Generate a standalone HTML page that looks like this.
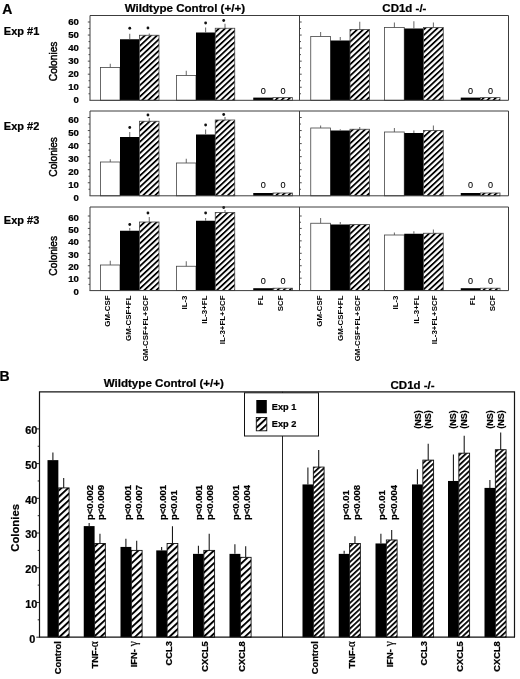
<!DOCTYPE html>
<html><head><meta charset="utf-8"><title>Figure</title>
<style>
html,body{margin:0;padding:0;background:#fff;}
body{width:520px;height:679px;overflow:hidden;font-family:"Liberation Sans",sans-serif;}
svg{display:block;filter:grayscale(1) blur(0.35px);font-family:"Liberation Sans",sans-serif;fill:#000;}
text{stroke:#000;stroke-width:0.22px;} text.t{stroke-width:0.45px} text.n{stroke-width:0.1px} text.z{stroke-width:0}
</style></head><body>
<svg width="520" height="679" viewBox="0 0 520 679">
<defs>
<pattern id="hA" patternUnits="userSpaceOnUse" width="10" height="4.13" patternTransform="rotate(-43)"><rect x="0" y="0" width="10" height="1.8" fill="#000"/></pattern>
<pattern id="hB1" patternUnits="userSpaceOnUse" width="10" height="4.68" patternTransform="rotate(-43)"><rect x="0" y="0" width="10" height="1.95" fill="#000"/></pattern>
<pattern id="hB2" patternUnits="userSpaceOnUse" width="10" height="3.75" patternTransform="rotate(-43)"><rect x="0" y="0" width="10" height="1.75" fill="#000"/></pattern>
</defs>
<rect width="520" height="679" fill="#fff"/>
<rect x="100.5" y="67.5" width="19.5" height="32.8" fill="#fff" stroke="#444" stroke-width="0.8"/>
<line x1="110.25" y1="67.5" x2="110.25" y2="63.75" stroke="#555" stroke-width="0.9"/>
<rect x="120.0" y="39.25" width="19.5" height="61.05" fill="#000"/>
<line x1="129.75" y1="39.25" x2="129.75" y2="33.75" stroke="#555" stroke-width="0.9"/>
<circle cx="129.75" cy="28.25" r="1.4" fill="#111"/>
<rect x="139.5" y="35.25" width="19.5" height="65.05" fill="#fff"/><rect x="139.5" y="35.25" width="19.5" height="65.05" fill="url(#hA)" stroke="#444" stroke-width="0.8"/>
<line x1="149.25" y1="35.25" x2="149.25" y2="33.5" stroke="#555" stroke-width="0.9"/>
<circle cx="147.95" cy="28.0" r="1.4" fill="#111"/>
<rect x="176.5" y="75.5" width="19.5" height="24.799999999999997" fill="#fff" stroke="#444" stroke-width="0.8"/>
<line x1="186.25" y1="75.5" x2="186.25" y2="70.75" stroke="#555" stroke-width="0.9"/>
<rect x="196.0" y="32.5" width="19.25" height="67.8" fill="#000"/>
<line x1="205.625" y1="32.5" x2="205.625" y2="27.5" stroke="#555" stroke-width="0.9"/>
<circle cx="205.625" cy="23.0" r="1.4" fill="#111"/>
<rect x="215.25" y="28.25" width="19.5" height="72.05" fill="#fff"/><rect x="215.25" y="28.25" width="19.5" height="72.05" fill="url(#hA)" stroke="#444" stroke-width="0.8"/>
<line x1="225.0" y1="28.25" x2="225.0" y2="23.75" stroke="#555" stroke-width="0.9"/>
<circle cx="223.7" cy="20.5" r="1.4" fill="#111"/>
<rect x="253.25" y="97.6" width="19.75" height="2.700000000000003" fill="#000"/>
<rect x="273.0" y="97.6" width="19.5" height="2.700000000000003" fill="#fff"/><rect x="273.0" y="97.6" width="19.5" height="2.700000000000003" fill="url(#hA)" stroke="#444" stroke-width="0.8"/>
<rect x="310.75" y="36.5" width="19.75" height="63.8" fill="#fff" stroke="#444" stroke-width="0.8"/>
<line x1="320.625" y1="36.5" x2="320.625" y2="32.0" stroke="#555" stroke-width="0.9"/>
<rect x="330.5" y="40.5" width="19.5" height="59.8" fill="#000"/>
<line x1="340.25" y1="40.5" x2="340.25" y2="37.0" stroke="#555" stroke-width="0.9"/>
<rect x="350.0" y="29.5" width="19.5" height="70.8" fill="#fff"/><rect x="350.0" y="29.5" width="19.5" height="70.8" fill="url(#hA)" stroke="#444" stroke-width="0.8"/>
<line x1="359.75" y1="29.5" x2="359.75" y2="21.75" stroke="#555" stroke-width="0.9"/>
<rect x="384.5" y="27.5" width="19.75" height="72.8" fill="#fff" stroke="#444" stroke-width="0.8"/>
<line x1="394.375" y1="27.5" x2="394.375" y2="22.5" stroke="#555" stroke-width="0.9"/>
<rect x="404.25" y="28.5" width="19.25" height="71.8" fill="#000"/>
<line x1="413.875" y1="28.5" x2="413.875" y2="21.25" stroke="#555" stroke-width="0.9"/>
<rect x="423.5" y="27.5" width="19.75" height="72.8" fill="#fff"/><rect x="423.5" y="27.5" width="19.75" height="72.8" fill="url(#hA)" stroke="#444" stroke-width="0.8"/>
<line x1="433.375" y1="27.5" x2="433.375" y2="22.5" stroke="#555" stroke-width="0.9"/>
<rect x="460.75" y="97.6" width="19.75" height="2.700000000000003" fill="#000"/>
<rect x="480.5" y="97.6" width="19.5" height="2.700000000000003" fill="#fff"/><rect x="480.5" y="97.6" width="19.5" height="2.700000000000003" fill="url(#hA)" stroke="#444" stroke-width="0.8"/>
<text x="263.2" y="93.65" font-size="9.1" font-weight="normal" text-anchor="middle" class="n">0</text>
<text x="283.0" y="93.65" font-size="9.1" font-weight="normal" text-anchor="middle" class="n">0</text>
<text x="470.6" y="93.65" font-size="9.1" font-weight="normal" text-anchor="middle" class="n">0</text>
<text x="490.5" y="93.65" font-size="9.1" font-weight="normal" text-anchor="middle" class="n">0</text>
<path d="M90.0 100.3 V15.5 H508.5 V100.3 H89.5 M299.5 15.5 V100.3" fill="none" stroke="#3c3c3c" stroke-width="1"/>
<path d="M88.5 93.77 H90.0 M299.5 93.77 H301.0 M87.8 87.25 H90.0 M299.5 87.25 H301.7 M88.5 80.72 H90.0 M299.5 80.72 H301.0 M87.8 74.20 H90.0 M299.5 74.20 H301.7 M88.5 67.67 H90.0 M299.5 67.67 H301.0 M87.8 61.15 H90.0 M299.5 61.15 H301.7 M88.5 54.62 H90.0 M299.5 54.62 H301.0 M87.8 48.10 H90.0 M299.5 48.10 H301.7 M88.5 41.58 H90.0 M299.5 41.58 H301.0 M87.8 35.05 H90.0 M299.5 35.05 H301.7 M88.5 28.53 H90.0 M299.5 28.53 H301.0 M87.8 22.00 H90.0 M299.5 22.00 H301.7 " fill="none" stroke="#3c3c3c" stroke-width="0.9"/>
<text x="78.8" y="103.30" font-size="9.6" font-weight="bold" text-anchor="end">0</text>
<text x="78.8" y="90.30" font-size="9.6" font-weight="bold" text-anchor="end">10</text>
<text x="78.8" y="77.30" font-size="9.6" font-weight="bold" text-anchor="end">20</text>
<text x="78.8" y="64.30" font-size="9.6" font-weight="bold" text-anchor="end">30</text>
<text x="78.8" y="51.30" font-size="9.6" font-weight="bold" text-anchor="end">40</text>
<text x="78.8" y="38.30" font-size="9.6" font-weight="bold" text-anchor="end">50</text>
<text x="78.8" y="25.30" font-size="9.6" font-weight="bold" text-anchor="end">60</text>
<text transform="translate(57.2,61.4) rotate(-90)" font-size="10.2" font-weight="normal" text-anchor="middle" class="t">Colonies</text>
<text x="3.8" y="34.7" font-size="11" font-weight="bold">Exp #1</text>
<rect x="100.5" y="162.0" width="19.5" height="33.80000000000001" fill="#fff" stroke="#444" stroke-width="0.8"/>
<line x1="110.25" y1="162.0" x2="110.25" y2="159.25" stroke="#555" stroke-width="0.9"/>
<rect x="120.0" y="137.0" width="19.5" height="58.80000000000001" fill="#000"/>
<line x1="129.75" y1="137.0" x2="129.75" y2="132.0" stroke="#555" stroke-width="0.9"/>
<circle cx="129.75" cy="127.5" r="1.4" fill="#111"/>
<rect x="139.5" y="121.25" width="19.5" height="74.55000000000001" fill="#fff"/><rect x="139.5" y="121.25" width="19.5" height="74.55000000000001" fill="url(#hA)" stroke="#444" stroke-width="0.8"/>
<line x1="149.25" y1="121.25" x2="149.25" y2="118.0" stroke="#555" stroke-width="0.9"/>
<circle cx="147.95" cy="115.0" r="1.4" fill="#111"/>
<rect x="176.5" y="163.0" width="19.5" height="32.80000000000001" fill="#fff" stroke="#444" stroke-width="0.8"/>
<line x1="186.25" y1="163.0" x2="186.25" y2="158.75" stroke="#555" stroke-width="0.9"/>
<rect x="196.0" y="134.5" width="19.25" height="61.30000000000001" fill="#000"/>
<line x1="205.625" y1="134.5" x2="205.625" y2="129.5" stroke="#555" stroke-width="0.9"/>
<circle cx="205.625" cy="125.0" r="1.4" fill="#111"/>
<rect x="215.25" y="120.0" width="19.5" height="75.80000000000001" fill="#fff"/><rect x="215.25" y="120.0" width="19.5" height="75.80000000000001" fill="url(#hA)" stroke="#444" stroke-width="0.8"/>
<line x1="225.0" y1="120.0" x2="225.0" y2="117.0" stroke="#555" stroke-width="0.9"/>
<circle cx="223.7" cy="114.5" r="1.4" fill="#111"/>
<rect x="253.25" y="193.0" width="19.75" height="2.8000000000000114" fill="#000"/>
<rect x="273.0" y="193.0" width="19.5" height="2.8000000000000114" fill="#fff"/><rect x="273.0" y="193.0" width="19.5" height="2.8000000000000114" fill="url(#hA)" stroke="#444" stroke-width="0.8"/>
<rect x="310.75" y="128.0" width="19.75" height="67.80000000000001" fill="#fff" stroke="#444" stroke-width="0.8"/>
<line x1="320.625" y1="128.0" x2="320.625" y2="125.5" stroke="#555" stroke-width="0.9"/>
<rect x="330.5" y="130.5" width="19.5" height="65.30000000000001" fill="#000"/>
<line x1="340.25" y1="130.5" x2="340.25" y2="129.25" stroke="#555" stroke-width="0.9"/>
<rect x="350.0" y="129.25" width="19.5" height="66.55000000000001" fill="#fff"/><rect x="350.0" y="129.25" width="19.5" height="66.55000000000001" fill="url(#hA)" stroke="#444" stroke-width="0.8"/>
<line x1="359.75" y1="129.25" x2="359.75" y2="127.0" stroke="#555" stroke-width="0.9"/>
<rect x="384.5" y="132.0" width="19.75" height="63.80000000000001" fill="#fff" stroke="#444" stroke-width="0.8"/>
<line x1="394.375" y1="132.0" x2="394.375" y2="128.0" stroke="#555" stroke-width="0.9"/>
<rect x="404.25" y="133.0" width="19.25" height="62.80000000000001" fill="#000"/>
<line x1="413.875" y1="133.0" x2="413.875" y2="130.5" stroke="#555" stroke-width="0.9"/>
<rect x="423.5" y="130.5" width="19.75" height="65.30000000000001" fill="#fff"/><rect x="423.5" y="130.5" width="19.75" height="65.30000000000001" fill="url(#hA)" stroke="#444" stroke-width="0.8"/>
<line x1="433.375" y1="130.5" x2="433.375" y2="125.5" stroke="#555" stroke-width="0.9"/>
<rect x="460.75" y="193.0" width="19.75" height="2.8000000000000114" fill="#000"/>
<rect x="480.5" y="193.0" width="19.5" height="2.8000000000000114" fill="#fff"/><rect x="480.5" y="193.0" width="19.5" height="2.8000000000000114" fill="url(#hA)" stroke="#444" stroke-width="0.8"/>
<text x="263.2" y="187.9" font-size="9.1" font-weight="normal" text-anchor="middle" class="n">0</text>
<text x="283.0" y="187.9" font-size="9.1" font-weight="normal" text-anchor="middle" class="n">0</text>
<text x="470.6" y="187.9" font-size="9.1" font-weight="normal" text-anchor="middle" class="n">0</text>
<text x="490.5" y="187.9" font-size="9.1" font-weight="normal" text-anchor="middle" class="n">0</text>
<path d="M90.0 195.8 V111.0 H508.5 V195.8 H89.5 M299.5 111.0 V195.8" fill="none" stroke="#3c3c3c" stroke-width="1"/>
<path d="M88.5 189.28 H90.0 M299.5 189.28 H301.0 M87.8 182.75 H90.0 M299.5 182.75 H301.7 M88.5 176.23 H90.0 M299.5 176.23 H301.0 M87.8 169.70 H90.0 M299.5 169.70 H301.7 M88.5 163.18 H90.0 M299.5 163.18 H301.0 M87.8 156.65 H90.0 M299.5 156.65 H301.7 M88.5 150.12 H90.0 M299.5 150.12 H301.0 M87.8 143.60 H90.0 M299.5 143.60 H301.7 M88.5 137.07 H90.0 M299.5 137.07 H301.0 M87.8 130.55 H90.0 M299.5 130.55 H301.7 M88.5 124.02 H90.0 M299.5 124.02 H301.0 M87.8 117.50 H90.0 M299.5 117.50 H301.7 " fill="none" stroke="#3c3c3c" stroke-width="0.9"/>
<text x="78.8" y="200.90" font-size="9.6" font-weight="bold" text-anchor="end">0</text>
<text x="78.8" y="187.83" font-size="9.6" font-weight="bold" text-anchor="end">10</text>
<text x="78.8" y="174.77" font-size="9.6" font-weight="bold" text-anchor="end">20</text>
<text x="78.8" y="161.70" font-size="9.6" font-weight="bold" text-anchor="end">30</text>
<text x="78.8" y="148.63" font-size="9.6" font-weight="bold" text-anchor="end">40</text>
<text x="78.8" y="135.57" font-size="9.6" font-weight="bold" text-anchor="end">50</text>
<text x="78.8" y="122.50" font-size="9.6" font-weight="bold" text-anchor="end">60</text>
<text transform="translate(57.2,156.9) rotate(-90)" font-size="10.2" font-weight="normal" text-anchor="middle" class="t">Colonies</text>
<text x="3.8" y="130.2" font-size="11" font-weight="bold">Exp #2</text>
<rect x="100.5" y="265.0" width="19.5" height="25.600000000000023" fill="#fff" stroke="#444" stroke-width="0.8"/>
<line x1="110.25" y1="265.0" x2="110.25" y2="260.75" stroke="#555" stroke-width="0.9"/>
<rect x="120.0" y="230.75" width="19.5" height="59.85000000000002" fill="#000"/>
<line x1="129.75" y1="230.75" x2="129.75" y2="228.0" stroke="#555" stroke-width="0.9"/>
<circle cx="129.75" cy="224.5" r="1.4" fill="#111"/>
<rect x="139.5" y="222.0" width="19.5" height="68.60000000000002" fill="#fff"/><rect x="139.5" y="222.0" width="19.5" height="68.60000000000002" fill="url(#hA)" stroke="#444" stroke-width="0.8"/>
<line x1="149.25" y1="222.0" x2="149.25" y2="217.0" stroke="#555" stroke-width="0.9"/>
<circle cx="147.95" cy="213.0" r="1.4" fill="#111"/>
<rect x="176.5" y="266.25" width="19.5" height="24.350000000000023" fill="#fff" stroke="#444" stroke-width="0.8"/>
<line x1="186.25" y1="266.25" x2="186.25" y2="261.25" stroke="#555" stroke-width="0.9"/>
<rect x="196.0" y="220.75" width="19.25" height="69.85000000000002" fill="#000"/>
<line x1="205.625" y1="220.75" x2="205.625" y2="218.0" stroke="#555" stroke-width="0.9"/>
<circle cx="205.625" cy="213.0" r="1.4" fill="#111"/>
<rect x="215.25" y="212.5" width="19.5" height="78.10000000000002" fill="#fff"/><rect x="215.25" y="212.5" width="19.5" height="78.10000000000002" fill="url(#hA)" stroke="#444" stroke-width="0.8"/>
<line x1="225.0" y1="212.5" x2="225.0" y2="210.0" stroke="#555" stroke-width="0.9"/>
<circle cx="223.7" cy="207.5" r="1.4" fill="#111"/>
<rect x="253.25" y="288.2" width="19.75" height="2.400000000000034" fill="#000"/>
<rect x="273.0" y="288.2" width="19.5" height="2.400000000000034" fill="#fff"/><rect x="273.0" y="288.2" width="19.5" height="2.400000000000034" fill="url(#hA)" stroke="#444" stroke-width="0.8"/>
<rect x="310.75" y="223.25" width="19.75" height="67.35000000000002" fill="#fff" stroke="#444" stroke-width="0.8"/>
<line x1="320.625" y1="223.25" x2="320.625" y2="218.0" stroke="#555" stroke-width="0.9"/>
<rect x="330.5" y="224.5" width="19.5" height="66.10000000000002" fill="#000"/>
<line x1="340.25" y1="224.5" x2="340.25" y2="222.0" stroke="#555" stroke-width="0.9"/>
<rect x="350.0" y="224.5" width="19.5" height="66.10000000000002" fill="#fff"/><rect x="350.0" y="224.5" width="19.5" height="66.10000000000002" fill="url(#hA)" stroke="#444" stroke-width="0.8"/>
<rect x="384.5" y="235.0" width="19.75" height="55.60000000000002" fill="#fff" stroke="#444" stroke-width="0.8"/>
<line x1="394.375" y1="235.0" x2="394.375" y2="232.5" stroke="#555" stroke-width="0.9"/>
<rect x="404.25" y="233.75" width="19.25" height="56.85000000000002" fill="#000"/>
<line x1="413.875" y1="233.75" x2="413.875" y2="231.25" stroke="#555" stroke-width="0.9"/>
<rect x="423.5" y="233.25" width="19.75" height="57.35000000000002" fill="#fff"/><rect x="423.5" y="233.25" width="19.75" height="57.35000000000002" fill="url(#hA)" stroke="#444" stroke-width="0.8"/>
<line x1="433.375" y1="233.25" x2="433.375" y2="229.5" stroke="#555" stroke-width="0.9"/>
<rect x="460.75" y="288.2" width="19.75" height="2.400000000000034" fill="#000"/>
<rect x="480.5" y="288.2" width="19.5" height="2.400000000000034" fill="#fff"/><rect x="480.5" y="288.2" width="19.5" height="2.400000000000034" fill="url(#hA)" stroke="#444" stroke-width="0.8"/>
<text x="263.2" y="284.15" font-size="9.1" font-weight="normal" text-anchor="middle" class="n">0</text>
<text x="283.0" y="284.15" font-size="9.1" font-weight="normal" text-anchor="middle" class="n">0</text>
<text x="470.6" y="284.15" font-size="9.1" font-weight="normal" text-anchor="middle" class="n">0</text>
<text x="490.5" y="284.15" font-size="9.1" font-weight="normal" text-anchor="middle" class="n">0</text>
<path d="M90.0 290.6 V207.0 H508.5 V290.6 H89.5 M299.5 207.0 V290.6" fill="none" stroke="#3c3c3c" stroke-width="1"/>
<path d="M88.5 284.38 H90.0 M299.5 284.38 H301.0 M87.8 278.17 H90.0 M299.5 278.17 H301.7 M88.5 271.95 H90.0 M299.5 271.95 H301.0 M87.8 265.73 H90.0 M299.5 265.73 H301.7 M88.5 259.52 H90.0 M299.5 259.52 H301.0 M87.8 253.30 H90.0 M299.5 253.30 H301.7 M88.5 247.08 H90.0 M299.5 247.08 H301.0 M87.8 240.87 H90.0 M299.5 240.87 H301.7 M88.5 234.65 H90.0 M299.5 234.65 H301.0 M87.8 228.43 H90.0 M299.5 228.43 H301.7 M88.5 222.22 H90.0 M299.5 222.22 H301.0 M87.8 216.00 H90.0 M299.5 216.00 H301.7 " fill="none" stroke="#3c3c3c" stroke-width="0.9"/>
<text x="78.8" y="294.60" font-size="9.6" font-weight="bold" text-anchor="end">0</text>
<text x="78.8" y="282.30" font-size="9.6" font-weight="bold" text-anchor="end">10</text>
<text x="78.8" y="270.00" font-size="9.6" font-weight="bold" text-anchor="end">20</text>
<text x="78.8" y="257.70" font-size="9.6" font-weight="bold" text-anchor="end">30</text>
<text x="78.8" y="245.40" font-size="9.6" font-weight="bold" text-anchor="end">40</text>
<text x="78.8" y="233.10" font-size="9.6" font-weight="bold" text-anchor="end">50</text>
<text x="78.8" y="220.80" font-size="9.6" font-weight="bold" text-anchor="end">60</text>
<text transform="translate(57.2,255.8) rotate(-90)" font-size="10.2" font-weight="normal" text-anchor="middle" class="t">Colonies</text>
<text x="3.8" y="224.2" font-size="11" font-weight="bold">Exp #3</text>
<text x="2.3" y="13.9" font-size="14" font-weight="bold">A</text>
<text x="184.9" y="12" font-size="11.6" font-weight="bold" text-anchor="middle">Wildtype Control (+/+)</text>
<text x="404.4" y="12.2" font-size="11.5" font-weight="bold" text-anchor="middle">CD1d -/-</text>
<text transform="translate(109.8,295.5) rotate(-90)" font-size="7.9" font-weight="bold" text-anchor="end" class="z">GM-CSF</text>
<text transform="translate(321.55,295.5) rotate(-90)" font-size="7.9" font-weight="bold" text-anchor="end" class="z">GM-CSF</text>
<text transform="translate(130.8,295.5) rotate(-90)" font-size="7.9" font-weight="bold" text-anchor="end" class="z">GM-CSF+FL</text>
<text transform="translate(342.55,295.5) rotate(-90)" font-size="7.9" font-weight="bold" text-anchor="end" class="z">GM-CSF+FL</text>
<text transform="translate(148.3,295.5) rotate(-90)" font-size="7.9" font-weight="bold" text-anchor="end" class="z">GM-CSF+FL+SCF</text>
<text transform="translate(360.05,295.5) rotate(-90)" font-size="7.9" font-weight="bold" text-anchor="end" class="z">GM-CSF+FL+SCF</text>
<text transform="translate(186.55,295.5) rotate(-90)" font-size="7.9" font-weight="bold" text-anchor="end" class="z">IL-3</text>
<text transform="translate(398.3,295.5) rotate(-90)" font-size="7.9" font-weight="bold" text-anchor="end" class="z">IL-3</text>
<text transform="translate(207.3,295.5) rotate(-90)" font-size="7.9" font-weight="bold" text-anchor="end" class="z">IL-3+FL</text>
<text transform="translate(419.05,295.5) rotate(-90)" font-size="7.9" font-weight="bold" text-anchor="end" class="z">IL-3+FL</text>
<text transform="translate(224.8,295.5) rotate(-90)" font-size="7.9" font-weight="bold" text-anchor="end" class="z">IL-3+FL+SCF</text>
<text transform="translate(436.55,295.5) rotate(-90)" font-size="7.9" font-weight="bold" text-anchor="end" class="z">IL-3+FL+SCF</text>
<text transform="translate(262.8,295.5) rotate(-90)" font-size="7.9" font-weight="bold" text-anchor="end" class="z">FL</text>
<text transform="translate(474.55,295.5) rotate(-90)" font-size="7.9" font-weight="bold" text-anchor="end" class="z">FL</text>
<text transform="translate(283.3,295.5) rotate(-90)" font-size="7.9" font-weight="bold" text-anchor="end" class="z">SCF</text>
<text transform="translate(495.05,295.5) rotate(-90)" font-size="7.9" font-weight="bold" text-anchor="end" class="z">SCF</text>
<path d="M39.5 637.2 V391.8 H514.5 V637.2" fill="none" stroke="#151515" stroke-width="1.2"/>
<path d="M282.5 391.8 V637.2" fill="none" stroke="#222" stroke-width="1"/>
<rect x="47.5" y="460.12800000000004" width="10.850000000000001" height="177.072" fill="#000"/>
<rect x="58.35" y="487.90400000000005" width="10.749999999999993" height="149.296" fill="#fff"/><rect x="58.35" y="487.90400000000005" width="10.749999999999993" height="149.296" fill="url(#hB1)" stroke="#111" stroke-width="0.9"/>
<line x1="52.9" y1="460.12800000000004" x2="52.9" y2="452.5" stroke="#111" stroke-width="1.05"/>
<line x1="63.7" y1="487.90400000000005" x2="63.7" y2="478.0" stroke="#111" stroke-width="1.05"/>
<rect x="83.75" y="526.096" width="10.849999999999994" height="111.10400000000004" fill="#000"/>
<rect x="94.6" y="543.456" width="10.75" height="93.74400000000003" fill="#fff"/><rect x="94.6" y="543.456" width="10.75" height="93.74400000000003" fill="url(#hB1)" stroke="#111" stroke-width="0.9"/>
<line x1="89.15" y1="526.096" x2="89.15" y2="523.0" stroke="#111" stroke-width="1.05"/>
<line x1="99.95" y1="543.456" x2="99.95" y2="533.75" stroke="#111" stroke-width="1.05"/>
<rect x="120.5" y="546.928" width="10.849999999999994" height="90.27200000000005" fill="#000"/>
<rect x="131.35" y="550.4000000000001" width="10.75" height="86.79999999999995" fill="#fff"/><rect x="131.35" y="550.4000000000001" width="10.75" height="86.79999999999995" fill="url(#hB1)" stroke="#111" stroke-width="0.9"/>
<line x1="125.9" y1="546.928" x2="125.9" y2="538.75" stroke="#111" stroke-width="1.05"/>
<line x1="136.7" y1="550.4000000000001" x2="136.7" y2="540.75" stroke="#111" stroke-width="1.05"/>
<rect x="156.25" y="550.4000000000001" width="10.849999999999994" height="86.79999999999995" fill="#000"/>
<rect x="167.1" y="543.456" width="10.75" height="93.74400000000003" fill="#fff"/><rect x="167.1" y="543.456" width="10.75" height="93.74400000000003" fill="url(#hB1)" stroke="#111" stroke-width="0.9"/>
<line x1="161.65" y1="550.4000000000001" x2="161.65" y2="547.0" stroke="#111" stroke-width="1.05"/>
<line x1="172.45" y1="543.456" x2="172.45" y2="526.25" stroke="#111" stroke-width="1.05"/>
<rect x="193.0" y="553.8720000000001" width="10.849999999999994" height="83.32799999999997" fill="#000"/>
<rect x="203.85" y="550.4000000000001" width="10.75" height="86.79999999999995" fill="#fff"/><rect x="203.85" y="550.4000000000001" width="10.75" height="86.79999999999995" fill="url(#hB1)" stroke="#111" stroke-width="0.9"/>
<line x1="198.4" y1="553.8720000000001" x2="198.4" y2="545.75" stroke="#111" stroke-width="1.05"/>
<line x1="209.2" y1="550.4000000000001" x2="209.2" y2="533.75" stroke="#111" stroke-width="1.05"/>
<rect x="229.5" y="553.8720000000001" width="10.849999999999994" height="83.32799999999997" fill="#000"/>
<rect x="240.35" y="557.344" width="10.75" height="79.856" fill="#fff"/><rect x="240.35" y="557.344" width="10.75" height="79.856" fill="url(#hB1)" stroke="#111" stroke-width="0.9"/>
<line x1="234.9" y1="553.8720000000001" x2="234.9" y2="544.25" stroke="#111" stroke-width="1.05"/>
<line x1="245.7" y1="557.344" x2="245.7" y2="546.25" stroke="#111" stroke-width="1.05"/>
<rect x="302.5" y="484.432" width="10.850000000000023" height="152.76800000000003" fill="#000"/>
<rect x="313.35" y="467.072" width="10.75" height="170.12800000000004" fill="#fff"/><rect x="313.35" y="467.072" width="10.75" height="170.12800000000004" fill="url(#hB2)" stroke="#111" stroke-width="0.9"/>
<line x1="307.9" y1="484.432" x2="307.9" y2="467.5" stroke="#111" stroke-width="1.05"/>
<line x1="318.7" y1="467.072" x2="318.7" y2="450.0" stroke="#111" stroke-width="1.05"/>
<rect x="338.75" y="553.8720000000001" width="10.850000000000023" height="83.32799999999997" fill="#000"/>
<rect x="349.6" y="543.456" width="10.75" height="93.74400000000003" fill="#fff"/><rect x="349.6" y="543.456" width="10.75" height="93.74400000000003" fill="url(#hB2)" stroke="#111" stroke-width="0.9"/>
<line x1="344.15" y1="553.8720000000001" x2="344.15" y2="550.75" stroke="#111" stroke-width="1.05"/>
<line x1="354.95" y1="543.456" x2="354.95" y2="536.25" stroke="#111" stroke-width="1.05"/>
<rect x="375.5" y="543.456" width="10.850000000000023" height="93.74400000000003" fill="#000"/>
<rect x="386.35" y="539.984" width="10.75" height="97.21600000000001" fill="#fff"/><rect x="386.35" y="539.984" width="10.75" height="97.21600000000001" fill="url(#hB2)" stroke="#111" stroke-width="0.9"/>
<line x1="380.9" y1="543.456" x2="380.9" y2="533.75" stroke="#111" stroke-width="1.05"/>
<line x1="391.7" y1="539.984" x2="391.7" y2="530.0" stroke="#111" stroke-width="1.05"/>
<rect x="412.0" y="484.432" width="10.850000000000023" height="152.76800000000003" fill="#000"/>
<rect x="422.85" y="460.12800000000004" width="10.75" height="177.072" fill="#fff"/><rect x="422.85" y="460.12800000000004" width="10.75" height="177.072" fill="url(#hB2)" stroke="#111" stroke-width="0.9"/>
<line x1="417.4" y1="484.432" x2="417.4" y2="469.25" stroke="#111" stroke-width="1.05"/>
<line x1="428.2" y1="460.12800000000004" x2="428.2" y2="443.75" stroke="#111" stroke-width="1.05"/>
<rect x="448.0" y="480.96000000000004" width="10.850000000000023" height="156.24" fill="#000"/>
<rect x="458.85" y="453.1840000000001" width="10.75" height="184.01599999999996" fill="#fff"/><rect x="458.85" y="453.1840000000001" width="10.75" height="184.01599999999996" fill="url(#hB2)" stroke="#111" stroke-width="0.9"/>
<line x1="453.4" y1="480.96000000000004" x2="453.4" y2="454.5" stroke="#111" stroke-width="1.05"/>
<line x1="464.2" y1="453.1840000000001" x2="464.2" y2="435.75" stroke="#111" stroke-width="1.05"/>
<rect x="484.5" y="487.90400000000005" width="10.850000000000023" height="149.296" fill="#000"/>
<rect x="495.35" y="449.71200000000005" width="10.75" height="187.488" fill="#fff"/><rect x="495.35" y="449.71200000000005" width="10.75" height="187.488" fill="url(#hB2)" stroke="#111" stroke-width="0.9"/>
<line x1="489.9" y1="487.90400000000005" x2="489.9" y2="480.0" stroke="#111" stroke-width="1.05"/>
<line x1="500.7" y1="449.71200000000005" x2="500.7" y2="432.5" stroke="#111" stroke-width="1.05"/>
<path d="M39.0 637.2 H515.0" fill="none" stroke="#111" stroke-width="1.3"/>
<path d="M36.3 637.20 H39.5 M37.7 619.84 H39.5 M36.3 602.48 H39.5 M37.7 585.12 H39.5 M36.3 567.76 H39.5 M37.7 550.40 H39.5 M36.3 533.04 H39.5 M37.7 515.68 H39.5 M36.3 498.32 H39.5 M37.7 480.96 H39.5 M36.3 463.60 H39.5 M37.7 446.24 H39.5 M36.3 428.88 H39.5 " fill="none" stroke="#222" stroke-width="1"/>
<text x="35.2" y="642.60" font-size="10.9" font-weight="bold" text-anchor="end">0</text>
<text x="37.4" y="607.88" font-size="10.9" font-weight="bold" text-anchor="end">10</text>
<text x="37.4" y="573.16" font-size="10.9" font-weight="bold" text-anchor="end">20</text>
<text x="37.4" y="538.44" font-size="10.9" font-weight="bold" text-anchor="end">30</text>
<text x="37.4" y="503.72" font-size="10.9" font-weight="bold" text-anchor="end">40</text>
<text x="37.4" y="469.00" font-size="10.9" font-weight="bold" text-anchor="end">50</text>
<text x="37.4" y="434.28" font-size="10.9" font-weight="bold" text-anchor="end">60</text>
<text transform="translate(19.2,527.9) rotate(-90)" font-size="11.3" font-weight="bold" text-anchor="middle" >Colonies</text>
<text x="-0.6" y="380.6" font-size="14" font-weight="bold">B</text>
<text x="163.8" y="387" font-size="11.6" font-weight="bold" text-anchor="middle">Wildtype Control (+/+)</text>
<text x="412.6" y="389" font-size="11.5" font-weight="bold" text-anchor="middle">CD1d -/-</text>
<rect x="244.5" y="392.8" width="74" height="43.2" fill="#fff" stroke="#111" stroke-width="1"/>
<rect x="256.3" y="400" width="10.5" height="13.3" fill="#000"/>
<rect x="256.3" y="417.5" width="10.5" height="13.3" fill="#fff"/><rect x="256.3" y="417.5" width="10.5" height="13.3" fill="url(#hB1)" stroke="#111" stroke-width="0.9"/>
<text x="271.8" y="409.6" font-size="9.2" font-weight="bold">Exp 1</text>
<text x="271.8" y="427.2" font-size="9.2" font-weight="bold">Exp 2</text>
<text transform="translate(92.9,520.0) rotate(-90)" font-size="9.5" font-weight="bold" text-anchor="start" >p&lt;0.002</text>
<text transform="translate(103.65,520.0) rotate(-90)" font-size="9.5" font-weight="bold" text-anchor="start" >p&lt;0.009</text>
<text transform="translate(131.15,520.0) rotate(-90)" font-size="9.5" font-weight="bold" text-anchor="start" >p&lt;0.001</text>
<text transform="translate(141.9,520.0) rotate(-90)" font-size="9.5" font-weight="bold" text-anchor="start" >p&lt;0.007</text>
<text transform="translate(166.15,520.0) rotate(-90)" font-size="9.5" font-weight="bold" text-anchor="start" >p&lt;0.001</text>
<text transform="translate(177.4,520.0) rotate(-90)" font-size="9.5" font-weight="bold" text-anchor="start" >p&lt;0.01</text>
<text transform="translate(202.4,520.0) rotate(-90)" font-size="9.5" font-weight="bold" text-anchor="start" >p&lt;0.001</text>
<text transform="translate(213.15,520.0) rotate(-90)" font-size="9.5" font-weight="bold" text-anchor="start" >p&lt;0.008</text>
<text transform="translate(238.65,520.0) rotate(-90)" font-size="9.5" font-weight="bold" text-anchor="start" >p&lt;0.001</text>
<text transform="translate(249.9,520.0) rotate(-90)" font-size="9.5" font-weight="bold" text-anchor="start" >p&lt;0.004</text>
<text transform="translate(348.65,520.0) rotate(-90)" font-size="9.5" font-weight="bold" text-anchor="start" >p&lt;0.01</text>
<text transform="translate(359.9,520.0) rotate(-90)" font-size="9.5" font-weight="bold" text-anchor="start" >p&lt;0.008</text>
<text transform="translate(385.4,520.0) rotate(-90)" font-size="9.5" font-weight="bold" text-anchor="start" >p&lt;0.01</text>
<text transform="translate(396.65,520.0) rotate(-90)" font-size="9.5" font-weight="bold" text-anchor="start" >p&lt;0.004</text>
<text transform="translate(420.5,428.8) rotate(-90)" font-size="9.0" font-weight="bold" text-anchor="start" >(NS)</text>
<text transform="translate(431.25,428.8) rotate(-90)" font-size="9.0" font-weight="bold" text-anchor="start" >(NS)</text>
<text transform="translate(456.0,428.8) rotate(-90)" font-size="9.0" font-weight="bold" text-anchor="start" >(NS)</text>
<text transform="translate(466.75,428.8) rotate(-90)" font-size="9.0" font-weight="bold" text-anchor="start" >(NS)</text>
<text transform="translate(493.0,428.8) rotate(-90)" font-size="9.0" font-weight="bold" text-anchor="start" >(NS)</text>
<text transform="translate(504.25,428.8) rotate(-90)" font-size="9.0" font-weight="bold" text-anchor="start" >(NS)</text>
<text transform="translate(61.3,641.2) rotate(-90)" font-size="9.3" font-weight="bold" text-anchor="end" >Control</text>
<text transform="translate(98.3,641.2) rotate(-90)" font-size="9.3" font-weight="bold" text-anchor="end" >TNF-<tspan font-weight="normal" font-size="11.5" font-family="Liberation Serif">α</tspan></text>
<text transform="translate(137.05,641.2) rotate(-90)" font-size="9.3" font-weight="bold" text-anchor="end" >IFN-<tspan font-weight="normal" font-size="11.5" font-family="Liberation Serif"> γ</tspan></text>
<text transform="translate(172.05,641.2) rotate(-90)" font-size="9.3" font-weight="bold" text-anchor="end" >CCL3</text>
<text transform="translate(208.3,641.2) rotate(-90)" font-size="9.3" font-weight="bold" text-anchor="end" >CXCL5</text>
<text transform="translate(244.55,641.2) rotate(-90)" font-size="9.3" font-weight="bold" text-anchor="end" >CXCL8</text>
<text transform="translate(318.3,641.2) rotate(-90)" font-size="9.3" font-weight="bold" text-anchor="end" >Control</text>
<text transform="translate(355.3,641.2) rotate(-90)" font-size="9.3" font-weight="bold" text-anchor="end" >TNF-<tspan font-weight="normal" font-size="11.5" font-family="Liberation Serif">α</tspan></text>
<text transform="translate(393.3,641.2) rotate(-90)" font-size="9.3" font-weight="bold" text-anchor="end" >IFN-<tspan font-weight="normal" font-size="11.5" font-family="Liberation Serif"> γ</tspan></text>
<text transform="translate(427.05,641.2) rotate(-90)" font-size="9.3" font-weight="bold" text-anchor="end" >CCL3</text>
<text transform="translate(463.3,641.2) rotate(-90)" font-size="9.3" font-weight="bold" text-anchor="end" >CXCL5</text>
<text transform="translate(499.55,641.2) rotate(-90)" font-size="9.3" font-weight="bold" text-anchor="end" >CXCL8</text>
</svg>
</body></html>
